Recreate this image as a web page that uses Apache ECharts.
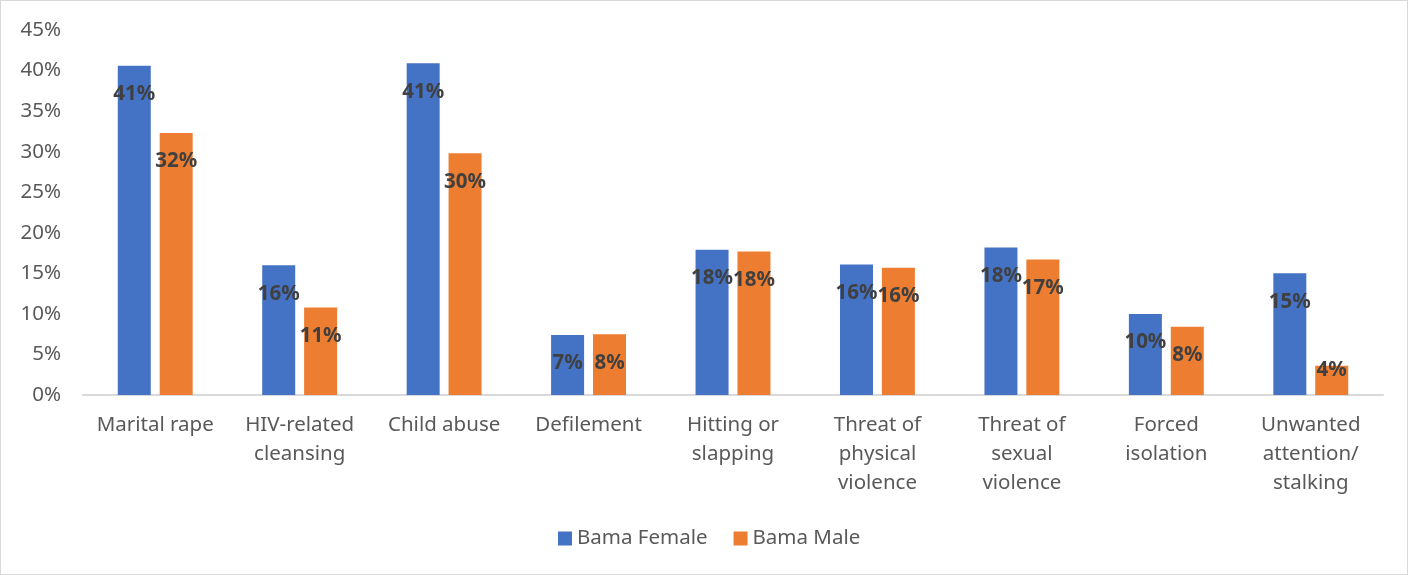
<!DOCTYPE html>
<html>
<head>
<meta charset="utf-8">
<script src="https://cdn.jsdelivr.net/npm/echarts@6/dist/echarts.min.js"></script>
<style>
html,body{margin:0;padding:0;background:#fff;}
#c{position:absolute;left:0;top:0;width:1406px;height:573px;border:1px solid #d9d9d9;}
</style>
</head>
<body>
<div id="c"></div>
<script>
const categories = ["Marital rape", "HIV-related\ncleansing", "Child abuse", "Defilement", "Hitting or\nslapping", "Threat of\nphysical\nviolence", "Threat of\nsexual\nviolence", "Forced\nisolation", "Unwanted\nattention/\nstalking"];
const female = [40.6, 16.0, 40.9, 7.4, 17.9, 16.1, 18.2, 10.0, 15.0];
const male = [32.3, 10.8, 29.8, 7.5, 17.7, 15.7, 16.7, 8.4, 3.6];
const yTicks = {min: 0, max: 45, interval: 5};

const FONT = '"Noto Sans", sans-serif';
function labelCfg() {
  return {
    show: true, position: 'insideTop', distance: 18,
    color: '#404040', fontWeight: 'bold', fontSize: 20.5, fontFamily: FONT,
    formatter: p => Math.round(p.value) + '%'
  };
}
function toData(arr) {
  return arr.map(v => v < 6 ? {value: v, label: {distance: -6}} : v);
}
const chart = echarts.init(document.getElementById('c'), null, {renderer: 'canvas'});
chart.setOption({
  animation: false,
  grid: {left: 82, right: 24, top: 29, bottom: 179},
  legend: {
    bottom: 20, left: 552, itemWidth: 14, itemHeight: 14, itemGap: 26,
    icon: 'rect',
    textStyle: {color: '#595959', fontSize: 20.5, fontFamily: FONT}
  },
  xAxis: {
    type: 'category', data: categories,
    axisLine: {lineStyle: {color: '#d9d9d9', width: 2}},
    axisTick: {show: false},
    axisLabel: {color: '#595959', fontSize: 20.5, fontFamily: FONT, lineHeight: 29, margin: 16, interval: 0}
  },
  yAxis: {
    type: 'value', min: yTicks.min, max: yTicks.max, interval: yTicks.interval,
    splitLine: {show: false},
    axisLine: {show: false}, axisTick: {show: false},
    axisLabel: {color: '#595959', fontSize: 20.5, fontFamily: FONT, margin: 22, formatter: '{value}%'}
  },
  series: [
    {name: 'Bama Female', type: 'bar', data: toData(female), barWidth: 33, barGap: '27%',
     itemStyle: {color: '#4472C4'}, label: labelCfg()},
    {name: 'Bama Male', type: 'bar', data: toData(male), barWidth: 33, barGap: '27%',
     itemStyle: {color: '#ED7D31'}, label: labelCfg()}
  ]
});
</script>
</body>
</html>
